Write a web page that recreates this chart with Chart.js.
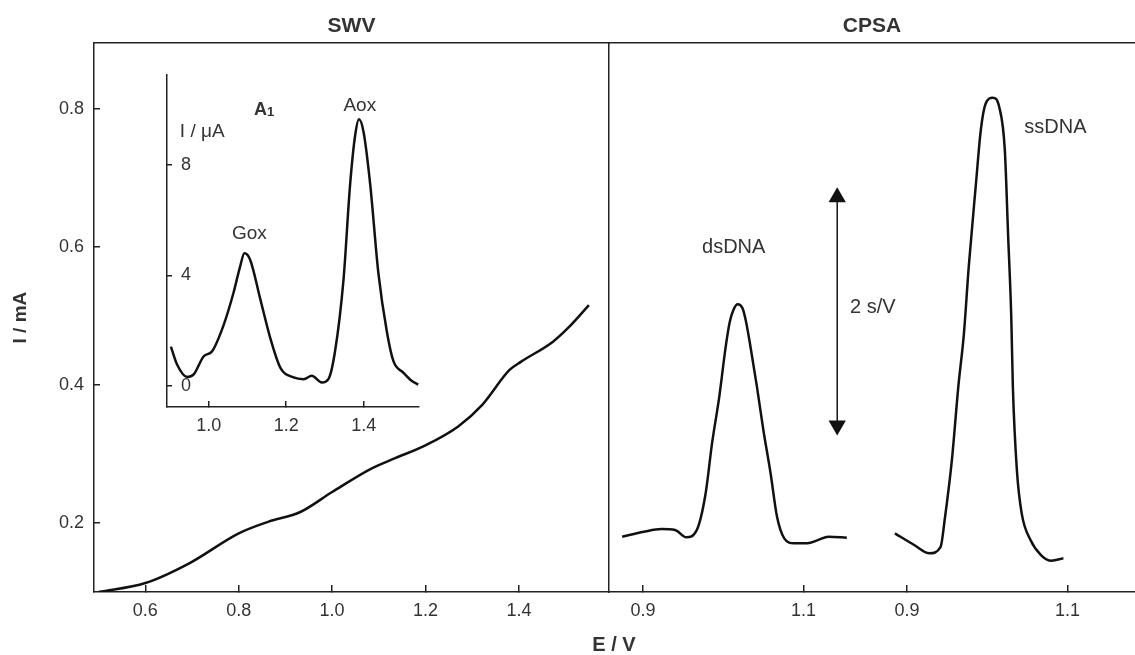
<!DOCTYPE html>
<html>
<head>
<meta charset="utf-8">
<script src="https://cdn.jsdelivr.net/npm/chart.js@4.4.1/dist/chart.umd.min.js"></script>
<style>
  body { margin: 0; background: #fff; }
  #wrap { position: relative; width: 1135px; height: 655px; overflow: hidden; }
  canvas { position: absolute; }
  #evLabel {
    position: absolute; left: 564px; top: 633px; width: 100px; line-height: 24px;
    text-align: center; font: bold 20px 'Liberation Sans', Arial, sans-serif; color: #333;
  }
</style>
</head>
<body>
<div id="wrap">
  <canvas id="swv" width="612" height="655" style="left:0;top:0"></canvas>
  <canvas id="cpsa" width="527" height="655" style="left:608px;top:0"></canvas>
  <canvas id="inset" width="300" height="400" style="left:130px;top:50px"></canvas>
  <div id="evLabel">E / V</div>
</div>
<script>
// SWV background current (left panel)
const swvE = [0.50, 0.60, 0.695, 0.80, 0.864, 0.932, 1.00, 1.084, 1.135, 1.201, 1.27, 1.321, 1.38, 1.405, 1.473, 1.507, 1.550]
const swvI = [0.100, 0.113, 0.142, 0.185, 0.202, 0.216, 0.245, 0.279, 0.294, 0.313, 0.340, 0.371, 0.422, 0.434, 0.463, 0.484, 0.516]
const swvTicksX = [0.6, 0.8, 1.0, 1.2, 1.4]
const swvTicksY = [0.2, 0.4, 0.6, 0.8]

// inset A1 (baseline corrected SWV, uA)
const insetE = [0.902, 0.918, 0.944, 0.961, 0.987, 1.008, 1.038, 1.064, 1.081, 1.092, 1.107, 1.133, 1.159, 1.185, 1.219, 1.245, 1.266, 1.292, 1.309, 1.326, 1.348, 1.365, 1.378, 1.388, 1.400, 1.417, 1.438, 1.460, 1.477, 1.503, 1.524, 1.541]
const insetI = [1.42, 0.77, 0.32, 0.41, 1.07, 1.24, 2.19, 3.38, 4.33, 4.80, 4.56, 3.14, 1.72, 0.65, 0.30, 0.24, 0.36, 0.12, 0.24, 1.24, 3.85, 7.29, 9.07, 9.66, 9.18, 7.29, 4.09, 1.96, 0.89, 0.47, 0.18, 0.04]
const insetTicksX = [1.0, 1.2, 1.4]
const insetTicksY = [0, 4, 8]

// CPSA, dsDNA and ssDNA (dt/dE, s/V)
const cpsaE1 = [0.874, 0.901, 0.923, 0.940, 0.954, 0.967, 0.978, 0.986, 0.995, 1.003, 1.008, 1.013, 1.018, 1.024, 1.028, 1.033, 1.042, 1.050, 1.059, 1.067, 1.076, 1.088, 1.105, 1.118, 1.131, 1.154]
const cpsaS1 = [0.484, 0.528, 0.552, 0.543, 0.479, 0.543, 0.864, 1.302, 1.710, 2.148, 2.364, 2.478, 2.522, 2.487, 2.382, 2.189, 1.798, 1.418, 1.039, 0.659, 0.470, 0.427, 0.427, 0.455, 0.484, 0.476]
const cpsaE2 = [0.885, 0.909, 0.928, 0.942, 0.947, 0.956, 0.964, 0.971, 0.977, 0.986, 0.992, 0.998, 1.007, 1.015, 1.022, 1.026, 1.030, 1.032, 1.037, 1.043, 1.054, 1.067, 1.080, 1.095]
const cpsaS2 = [0.514, 0.412, 0.339, 0.396, 0.631, 1.156, 1.798, 2.265, 2.849, 3.579, 4.046, 4.279, 4.332, 4.250, 3.871, 3.141, 2.410, 1.798, 1.068, 0.689, 0.455, 0.324, 0.274, 0.295]
const cpsaTicks1 = [0.9, 1.1]
const cpsaTicks2 = [0.9, 1.1]
const cpsaRange1 = [0.8576, 1.5131]
const cpsaRange2 = [0.5287, 1.1842]
const scaleBar = [1.46, 3.46]  // 2 s/V
const scaleBarE = 1.142

const FONT = "'Liberation Sans', Arial, Helvetica, sans-serif"
const textColor = '#333'
const axisColor = '#222'
const lineColor = '#111'
const tickFont = { family: FONT, size: 18 }

const pts = (xs, ys) => xs.map((x, i) => ({ x, y: ys[i] }))
const fixTicks = vals => s => { s.ticks = vals.map(v => ({ value: v })) }

// small text-annotation plugin, positions given in data units
function textLabels(items) {
    return {
        id: 'textLabels',
        afterDatasetsDraw(chart) {
            const ctx = chart.ctx
            ctx.save()
            ctx.fillStyle = textColor
            ctx.textBaseline = 'middle'
            for (const t of items) {
                const px = chart.scales[t.xAxis || 'x'].getPixelForValue(t.x)
                const py = chart.scales['y'].getPixelForValue(t.y)
                ctx.font = t.font
                if (t.sub) {
                    const w1 = ctx.measureText(t.text).width
                    ctx.font = t.subFont
                    const w2 = ctx.measureText(t.sub).width
                    const x0 = px - (w1 + w2) / 2
                    ctx.textAlign = 'left'
                    ctx.font = t.font
                    ctx.fillText(t.text, x0, py)
                    ctx.font = t.subFont
                    ctx.fillText(t.sub, x0 + w1, py + 2)
                } else {
                    ctx.textAlign = t.align || 'center'
                    ctx.fillText(t.text, px, py)
                }
            }
            ctx.restore()
        }
    }
}

const frameAxis = (position, size) => ({
    type: 'linear',
    position: position,
    ticks: { display: false },
    grid: { drawOnChartArea: false, drawTicks: false },
    border: { display: true, color: axisColor, width: 1.5 },
    afterFit: s => { if (position === 'top') s.height = size; else s.width = size },
})

// ---- left panel: SWV
new Chart(document.getElementById('swv'), {
    type: 'line',
    data: {
        datasets: [{
            data: pts(swvE, swvI),
            borderColor: lineColor,
            borderWidth: 2.5,
            pointRadius: 0,
            cubicInterpolationMode: 'monotone',
        }]
    },
    options: {
        responsive: false,
        animation: false,
        devicePixelRatio: 1,
        layout: { autoPadding: false, padding: { left: 0, right: 3, top: 0, bottom: 0 } },
        plugins: {
            legend: { display: false },
            tooltip: { enabled: false },
            title: {
                display: true,
                text: 'SWV',
                fullSize: false,
                color: textColor,
                font: { family: FONT, size: 21, weight: 'bold' },
                padding: { top: 14, bottom: 4 },
            },
        },
        scales: {
            x: {
                type: 'linear',
                min: 0.49,
                max: 1.593,
                afterBuildTicks: fixTicks(swvTicksX),
                afterFit: s => { s.height = 63 },
                ticks: { autoSkip: false, maxRotation: 0, padding: 15, font: tickFont, color: textColor, callback: v => v.toFixed(1) },
                grid: { drawOnChartArea: false, tickLength: -7, color: axisColor, lineWidth: 1.5 },
                border: { color: axisColor, width: 1.5 },
            },
            xTop: frameAxis('top', 0),
            y: {
                type: 'linear',
                min: 0.1,
                max: 0.8957,
                afterBuildTicks: fixTicks(swvTicksY),
                afterFit: s => { s.width = 94 },
                ticks: { autoSkip: false, padding: 16, font: tickFont, color: textColor, callback: v => v.toFixed(1) },
                grid: { drawOnChartArea: false, tickLength: -6, color: axisColor, lineWidth: 1.5 },
                border: { color: axisColor, width: 1.5 },
                title: {
                    display: true,
                    text: 'I / mA',
                    color: textColor,
                    font: { family: FONT, size: 19, weight: 'bold' },
                    padding: { top: 9, bottom: 0 },
                },
            },
            yRight: frameAxis('right', 0),
        }
    }
})

// ---- right panel: CPSA
const cpsaTickVals = cpsaTicks1.concat(cpsaTicks2.map(v =>
    cpsaRange1[0] + (v - cpsaRange2[0]) * (cpsaRange1[1] - cpsaRange1[0]) / (cpsaRange2[1] - cpsaRange2[0])))
const cpsaTickLabels = cpsaTicks1.concat(cpsaTicks2).map(v => v.toFixed(1))

new Chart(document.getElementById('cpsa'), {
    type: 'line',
    data: {
        datasets: [{
            data: pts(cpsaE1, cpsaS1),
            xAxisID: 'x',
            borderColor: lineColor,
            borderWidth: 2.5,
            pointRadius: 0,
            cubicInterpolationMode: 'monotone',
        }, {
            data: pts(cpsaE2, cpsaS2),
            xAxisID: 'x2',
            borderColor: lineColor,
            borderWidth: 2.5,
            pointRadius: 0,
            cubicInterpolationMode: 'monotone',
        }, {
            // 2 s/V scale bar
            data: scaleBar.map(y => ({ x: scaleBarE, y })),
            xAxisID: 'x',
            borderColor: lineColor,
            borderWidth: 1.5,
            pointStyle: 'triangle',
            pointRadius: 10,
            pointRotation: [180, 0],
            pointBackgroundColor: lineColor,
            pointBorderWidth: 0,
        }]
    },
    options: {
        responsive: false,
        animation: false,
        devicePixelRatio: 1,
        layout: { autoPadding: false, padding: { left: 1, right: 0, top: 0, bottom: 0 } },
        plugins: {
            legend: { display: false },
            tooltip: { enabled: false },
            title: {
                display: true,
                text: 'CPSA',
                fullSize: false,
                color: textColor,
                font: { family: FONT, size: 21, weight: 'bold' },
                padding: { top: 14, bottom: 4 },
            },
        },
        scales: {
            x: {
                type: 'linear',
                min: cpsaRange1[0],
                max: cpsaRange1[1],
                afterBuildTicks: fixTicks(cpsaTickVals),
                afterFit: s => { s.height = 63 },
                ticks: { autoSkip: false, maxRotation: 0, padding: 15, font: tickFont, color: textColor, callback: (v, i) => cpsaTickLabels[i] },
                grid: { drawOnChartArea: false, tickLength: -7, color: axisColor, lineWidth: 1.5 },
                border: { color: axisColor, width: 1.5 },
            },
            x2: { type: 'linear', display: false, min: cpsaRange2[0], max: cpsaRange2[1] },
            xTop: frameAxis('top', 0),
            y: { type: 'linear', display: false, min: 0, max: 4.81 },
        }
    },
    plugins: [textLabels([
        { text: 'dsDNA', x: 1.013, y: 3.02, font: `20px ${FONT}` },
        { text: 'ssDNA', x: 1.085, y: 4.07, xAxis: 'x2', font: `20px ${FONT}` },
        { text: '2 s/V', x: 1.158, y: 2.49, align: 'left', font: `20px ${FONT}` },
    ])]
})

// ---- inset A1
new Chart(document.getElementById('inset'), {
    type: 'line',
    data: {
        datasets: [{
            data: pts(insetE, insetI),
            borderColor: lineColor,
            borderWidth: 2.5,
            pointRadius: 0,
            cubicInterpolationMode: 'monotone',
        }]
    },
    options: {
        responsive: false,
        animation: false,
        devicePixelRatio: 1,
        layout: { autoPadding: false, padding: { left: 37, right: 11, top: 18, bottom: 0 } },
        plugins: { legend: { display: false }, tooltip: { enabled: false } },
        scales: {
            x: {
                type: 'linear',
                min: 0.892,
                max: 1.543,
                afterBuildTicks: fixTicks(insetTicksX),
                afterFit: s => { s.height = 43 },
                ticks: { autoSkip: false, maxRotation: 0, padding: 14, font: tickFont, color: textColor, callback: v => v.toFixed(1) },
                grid: { drawOnChartArea: false, tickLength: -6, color: axisColor, lineWidth: 1.5 },
                border: { color: axisColor, width: 1.5 },
            },
            y: {
                type: 'linear',
                min: -0.77,
                max: 11.27,
                afterBuildTicks: fixTicks(insetTicksY),
                afterFit: s => { s.width = 0 },
                ticks: { autoSkip: false, mirror: true, padding: 14, font: tickFont, color: textColor, callback: v => String(v) },
                grid: { drawOnChartArea: false, tickLength: -5, color: axisColor, lineWidth: 1.5 },
                border: { color: axisColor, width: 1.5 },
            },
        }
    },
    plugins: [textLabels([
        { text: 'I / μA', x: 0.983, y: 9.21, font: `19px ${FONT}` },
        { text: 'A', sub: '1', x: 1.143, y: 9.99, font: `bold 18px ${FONT}`, subFont: `bold 13px ${FONT}` },
        { text: 'Aox', x: 1.390, y: 10.15, font: `19px ${FONT}` },
        { text: 'Gox', x: 1.105, y: 5.51, font: `19px ${FONT}` },
    ])]
})
</script>
</body>
</html>
